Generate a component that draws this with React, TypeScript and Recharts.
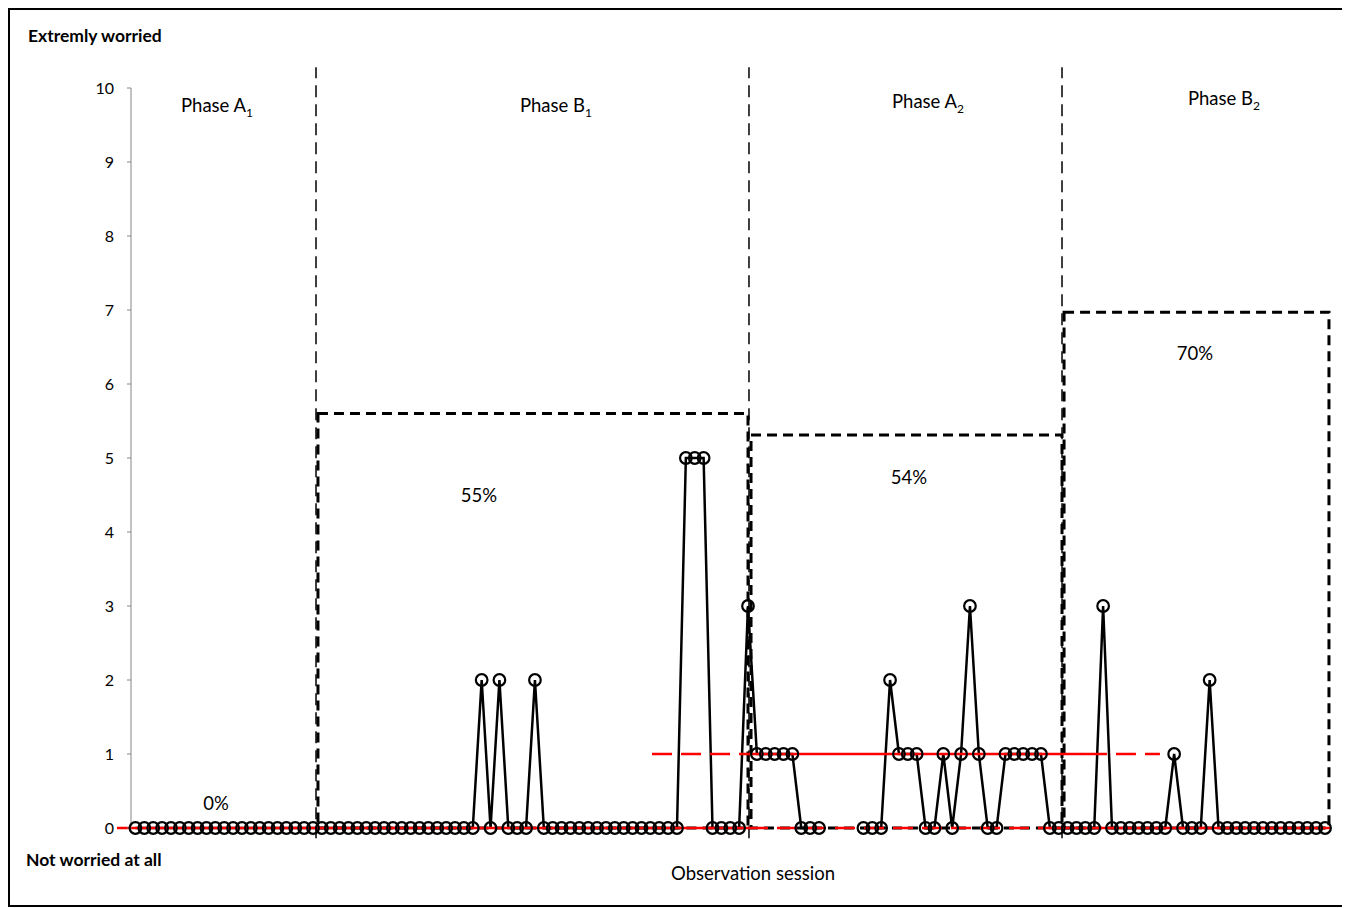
import React from 'react';
import { ComposedChart, Line, XAxis, YAxis, ReferenceLine, ReferenceArea } from 'recharts';

// worry rating per observation session, one array per phase (null = session missing)
const phaseA1: (number | null)[] = [0, 0, 0, 0, 0, 0, 0, 0, 0, 0, 0, 0, 0, 0, 0, 0, 0, 0, 0, 0, 0];
const phaseB1: (number | null)[] = [
  0, 0, 0, 0, 0, 0, 0, 0, 0, 0, 0, 0, 0, 0, 0, 0, 0, 0, 2, 0, 2, 0, 0, 0, 2,
  0, 0, 0, 0, 0, 0, 0, 0, 0, 0, 0, 0, 0, 0, 0, 0, 5, 5, 5, 0, 0, 0, 0, 3,
];
const phaseA2: (number | null)[] = [
  1, 1, 1, 1, 1, 0, 0, 0, null, null, null, null, 0, 0, 0, 2, 1, 1, 1, 0, 0, 1, 0, 1, 3,
  1, 0, 0, 1, 1, 1, 1, 1, 0, 0,
];
const phaseB2: (number | null)[] = [
  0, 0, 0, 0, 3, 0, 0, 0, 0, 0, 0, 0, 1, 0, 0, 0, 2, 0, 0, 0, 0, 0, 0, 0, 0, 0, 0, 0, 0, 0,
];

const yTicks = [0, 1, 2, 3, 4, 5, 6, 7, 8, 9, 10];

// phase boundaries (session index) and the dashed boxes drawn around each phase
const phaseDividers = [20.34, 69.11, 104.37];
const boxes = [
  { x1: 20.56, x2: 69.0, top: 5.6 },
  { x1: 69.34, x2: 104.37, top: 5.31 },
  { x1: 104.6, x2: 134.44, top: 6.97 },
];
const percentLabels = [
  { text: '0%', left: 216, top: 803 },
  { text: '55%', left: 479, top: 495 },
  { text: '54%', left: 909, top: 477 },
  { text: '70%', left: 1195, top: 353 },
];
const phaseLabels = [
  { name: 'A', sub: '1', left: 217, top: 107 },
  { name: 'B', sub: '1', left: 556, top: 107 },
  { name: 'A', sub: '2', left: 928, top: 103 },
  { name: 'B', sub: '2', left: 1224, top: 100 },
];
// red level lines: [from, to, level, dashed]
const redLines: [number, number, number, boolean][] = [
  [-2.08, 69.0, 0, false],
  [69.0, 101.9, 0, true],
  [101.9, 134.6, 0, false],
  [58.19, 69.1, 1, true],
  [69.1, 107.18, 1, false],
  [107.18, 115.4, 1, true],
];

const values = [...phaseA1, ...phaseB1, ...phaseA2, ...phaseB2];
const data = values.map((v, i) => ({ i, v }));

const font = 'Lato, "Open Sans", sans-serif';

const Txt: React.FC<{
  left: number;
  top: number;
  bold?: boolean;
  alignLeft?: boolean;
  size?: number;
  children: React.ReactNode;
}> = ({ left, top, bold, alignLeft, size = 18.5, children }) => (
  <div
    style={{
      position: 'absolute',
      left: left - 10,
      top: top - 10,
      transform: alignLeft ? 'translate(0, -50%)' : 'translate(-50%, -50%)',
      whiteSpace: 'nowrap',
      fontSize: size,
      fontWeight: bold ? 700 : 400,
      color: '#000',
    }}
  >
    {children}
  </div>
);

export default function App() {
  return (
    <div
      style={{
        position: 'relative',
        width: 1335,
        height: 895,
        border: '2px solid #000',
        fontFamily: font,
        background: '#fff',
      }}
    >
      <ComposedChart width={1335} height={895} data={data} margin={{ top: 78, right: 15.5, bottom: 77, left: 0 }}>
        <XAxis dataKey="i" type="number" domain={[-0.5, 134.5]} hide />
        <YAxis
          domain={[0, 10]}
          ticks={yTicks}
          width={121}
          tickSize={4}
          tickMargin={13}
          stroke="#868686"
          tick={{ fill: '#000', fontSize: 16, fontFamily: font }}
          interval={0}
        />
        {phaseDividers.map((x) => (
          <ReferenceLine
            key={'d' + x}
            segment={[
              { x, y: -0.14 },
              { x, y: 10.28 },
            ]}
            stroke="#000"
            strokeWidth={1.5}
            strokeDasharray="12 7"
            ifOverflow="visible"
          />
        ))}
        {boxes.map((b) => (
          <ReferenceArea
            key={'b' + b.x1}
            x1={b.x1}
            x2={b.x2}
            y1={0}
            y2={b.top}
            fill="none"
            fillOpacity={0}
            stroke="#000"
            strokeWidth={3}
            strokeDasharray="10 6"
            ifOverflow="visible"
          />
        ))}
        <Line
          dataKey="v"
          stroke="#000"
          strokeWidth={2.5}
          connectNulls={false}
          dot={{ r: 5.8, stroke: '#000', strokeWidth: 2.2, fill: 'none' }}
          activeDot={false}
          isAnimationActive={false}
        />
        {redLines.map(([a, b, y, dashed]) => (
          <ReferenceLine
            key={'r' + a + '-' + y}
            segment={[
              { x: a, y },
              { x: b, y },
            ]}
            stroke="#ff0000"
            strokeWidth={2.5}
            strokeDasharray={dashed ? '20 9' : undefined}
            ifOverflow="visible"
          />
        ))}
      </ComposedChart>

      {phaseLabels.map((p) => (
        <Txt key={p.left} left={p.left} top={p.top}>
          Phase {p.name}
          <sub style={{ fontSize: 12 }}>{p.sub}</sub>
        </Txt>
      ))}
      {percentLabels.map((p) => (
        <Txt key={p.text} left={p.left} top={p.top}>
          {p.text}
        </Txt>
      ))}
      <Txt left={28} top={35} bold alignLeft size={17.5}>
        Extremly worried
      </Txt>
      <Txt left={26} top={859} bold alignLeft size={17.5}>
        Not worried at all
      </Txt>
      <Txt left={753} top={873}>
        Observation session
      </Txt>
    </div>
  );
}
